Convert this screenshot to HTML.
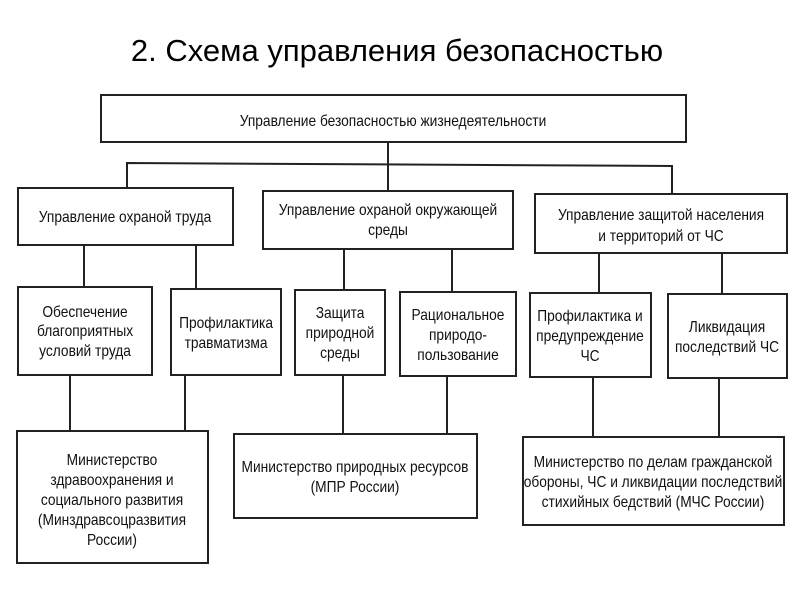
<!DOCTYPE html>
<html><head><meta charset="utf-8"><style>
body{margin:0;background:#fff;}
svg text{font-family:"Liberation Sans",sans-serif;font-size:16px;fill:#111;text-anchor:middle;transform-box:fill-box;transform-origin:center;transform:scaleX(0.86);}
svg text.t{transform:none;}
</style></head><body>
<svg width="800" height="600" xmlns="http://www.w3.org/2000/svg">
<text class="t" x="397" y="61" style="font-size:31px;fill:#000">2. Схема управления безопасностью</text>
<g stroke="#222" stroke-width="2" fill="none">
<rect x="101" y="95" width="585" height="47"/>
<polyline points="127,188 127,163 672,166 672,194"/>
<line x1="388" y1="142" x2="388" y2="191"/>
<rect x="18" y="188" width="215" height="57"/>
<rect x="263" y="191" width="250" height="58"/>
<rect x="535" y="194" width="252" height="59"/>
<line x1="84" y1="245" x2="84" y2="287"/>
<line x1="196" y1="245" x2="196" y2="289"/>
<line x1="344" y1="249" x2="344" y2="290"/>
<line x1="452" y1="249" x2="452" y2="292"/>
<line x1="599" y1="253" x2="599" y2="293"/>
<line x1="722" y1="253" x2="722" y2="294"/>
<rect x="18" y="287" width="134" height="88"/>
<rect x="171" y="289" width="110" height="86"/>
<rect x="295" y="290" width="90" height="85"/>
<rect x="400" y="292" width="116" height="84"/>
<rect x="530" y="293" width="121" height="84"/>
<rect x="668" y="294" width="119" height="84"/>
<line x1="70" y1="375" x2="70" y2="431"/>
<line x1="185" y1="375" x2="185" y2="432"/>
<line x1="343" y1="375" x2="343" y2="434"/>
<line x1="447" y1="376" x2="447" y2="435"/>
<line x1="593" y1="377" x2="593" y2="437"/>
<line x1="719" y1="378" x2="719" y2="438"/>
<rect x="17" y="431" width="191" height="132"/>
<rect x="234" y="434" width="243" height="84"/>
<rect x="523" y="437" width="261" height="88"/>
</g>
<text x="393" y="126">Управление безопасностью жизнедеятельности</text>
<text x="125" y="222">Управление охраной труда</text>
<text x="388" y="215">Управление охраной окружающей</text>
<text x="388" y="235">среды</text>
<text x="661" y="220">Управление защитой населения</text>
<text x="661" y="241">и территорий от ЧС</text>
<text x="85" y="317">Обеспечение</text>
<text x="85" y="336">благоприятных</text>
<text x="85" y="356">условий труда</text>
<text x="226" y="328">Профилактика</text>
<text x="226" y="348">травматизма</text>
<text x="340" y="318">Защита</text>
<text x="340" y="338">природной</text>
<text x="340" y="358">среды</text>
<text x="458" y="320">Рациональное</text>
<text x="458" y="340">природо-</text>
<text x="458" y="360">пользование</text>
<text x="590" y="321">Профилактика и</text>
<text x="590" y="341">предупреждение</text>
<text x="590" y="361">ЧС</text>
<text x="727" y="332">Ликвидация</text>
<text x="727" y="352">последствий ЧС</text>
<text x="112" y="465">Министерство</text>
<text x="112" y="485">здравоохранения и</text>
<text x="112" y="505">социального развития</text>
<text x="112" y="525">(Минздравсоцразвития</text>
<text x="112" y="545">России)</text>
<text x="355" y="472">Министерство природных ресурсов</text>
<text x="355" y="492">(МПР России)</text>
<text x="653" y="467">Министерство по делам гражданской</text>
<text x="653" y="487">обороны, ЧС и ликвидации последствий</text>
<text x="653" y="507">стихийных бедствий (МЧС России)</text>
</svg>
</body></html>
